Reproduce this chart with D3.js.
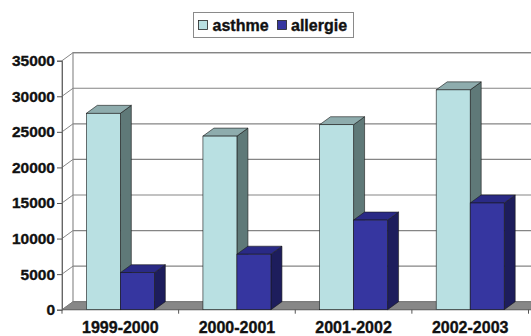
<!DOCTYPE html>
<html>
<head>
<meta charset="utf-8">
<script src="https://cdn.jsdelivr.net/npm/d3@7"></script>
<style>
  html, body { margin: 0; padding: 0; background: #fff; }
  svg { display: block; font-family: "Liberation Sans", Arial, sans-serif; }
  .lbl { paint-order: stroke; stroke: #111; stroke-width: 0.35px; }
</style>
</head>
<body>
<svg id="chart" width="531" height="336"></svg>
<script>
// Data
const categories = ["1999-2000", "2000-2001", "2001-2002", "2002-2003"];
const seriesNames = ["asthme", "allergie"];
const asthme = [27600, 24400, 26000, 30900];
const allergie = [5200, 7800, 12600, 15000];
const yTicks = [0, 5000, 10000, 15000, 20000, 25000, 30000, 35000];

// Face colours per series: front, top, side
const palette = {
  asthme:   { front: "#b9e0e2", top: "#8eacad", side: "#5f7978" },
  allergie: { front: "#3636a0", top: "#2a2a86", side: "#1d1d5c" }
};

const svg = d3.select("#chart");
const W = 531;

// 3D depth offset of the plot
const DX = 11, DY = -8;

const y = d3.scaleLinear().domain([0, 35000]).range([309.7, 60.7]);
const x0 = d3.scaleBand().domain(categories).range([62, 528.5]).paddingInner(0).paddingOuter(0);
const x1 = d3.scaleBand().domain(seriesNames).range([0, x0.bandwidth()]).paddingInner(0).paddingOuter(0.715);

const xLeft = x0.range()[0], xRight = x0.range()[1];
const poly = pts => pts.map(p => p.join(",")).join(" ");

// Back wall
svg.append("rect")
  .attr("x", xLeft + DX).attr("y", y(35000) + DY)
  .attr("width", W - (xLeft + DX) + 20).attr("height", y(0) - y(35000))
  .attr("fill", "#fff").attr("stroke", "#858585").attr("stroke-width", 1.1);

// Side wall outline
svg.append("line")
  .attr("x1", xLeft).attr("x2", xLeft)
  .attr("y1", y(35000)).attr("y2", y(0))
  .attr("stroke", "#858585");

// Gridlines on back wall + diagonal connectors on side wall
const grid = svg.append("g");
yTicks.forEach(v => {
  grid.append("line")
    .attr("x1", xLeft + DX).attr("x2", W + 20)
    .attr("y1", y(v) + DY).attr("y2", y(v) + DY)
    .attr("stroke", "#858585").attr("stroke-width", 1.2);
  grid.append("line")
    .attr("x1", xLeft).attr("y1", y(v))
    .attr("x2", xLeft + DX).attr("y2", y(v) + DY)
    .attr("stroke", "#858585").attr("stroke-width", 1);
});

// Floor
svg.append("polygon")
  .attr("points", poly([[xLeft, y(0)], [xRight + 20, y(0)], [xRight + 20 + DX, y(0) + DY], [xLeft + DX, y(0) + DY]]))
  .attr("fill", "#878787").attr("stroke", "#707070").attr("stroke-width", 0.6);

// Y axis with tick labels
const yAxis = d3.axisLeft(y).tickValues(yTicks).tickSize(5).tickPadding(2).tickFormat(d3.format("d"));
const yG = svg.append("g").attr("transform", `translate(${xLeft},0)`).call(yAxis);
yG.select(".domain").attr("stroke", "#666");
yG.selectAll(".tick line").attr("stroke", "#555");
yG.selectAll(".tick text")
  .attr("class", "lbl")
  .attr("font-size", 15.5).attr("font-weight", "bold").attr("fill", "#111")
  .attr("font-family", "'Liberation Sans', Arial, sans-serif");

// X axis line with tick marks at category boundaries
const xG = svg.append("g");
xG.append("line")
  .attr("x1", xLeft).attr("x2", W)
  .attr("y1", y(0)).attr("y2", y(0))
  .attr("stroke", "#666");
categories.concat([null]).forEach(c => {
  const bx = c === null ? xRight : x0(c);
  xG.append("line").attr("x1", bx).attr("x2", bx).attr("y1", y(0)).attr("y2", y(0) + 4).attr("stroke", "#555");
});

// Category labels
svg.append("g").selectAll("text").data(categories).join("text")
  .attr("class", "lbl")
  .attr("x", d => x0(d) + x0.bandwidth() / 2)
  .attr("y", 333)
  .attr("text-anchor", "middle")
  .attr("font-size", 16).attr("font-weight", "bold").attr("fill", "#111")
  .text(d => d);

// 3D bars, drawn left to right so nearer faces overlap correctly
const bars = [];
categories.forEach((c, i) => {
  bars.push({ cat: c, s: "asthme", v: asthme[i] });
  bars.push({ cat: c, s: "allergie", v: allergie[i] });
});

const barG = svg.append("g");
bars.forEach(b => {
  const xl = x0(b.cat) + x1(b.s);
  const xr = xl + x1.bandwidth();
  const yt = y(b.v), yb = y(0);
  const col = palette[b.s];
  const g = barG.append("g");
  // side face
  g.append("polygon")
    .attr("points", poly([[xr, yb], [xr, yt], [xr + DX, yt + DY], [xr + DX, yb + DY]]))
    .attr("fill", col.side).attr("stroke", "#1a1a1a").attr("stroke-width", 0.6).attr("stroke-linejoin", "round");
  // top face
  g.append("polygon")
    .attr("points", poly([[xl, yt], [xr, yt], [xr + DX, yt + DY], [xl + DX, yt + DY]]))
    .attr("fill", col.top).attr("stroke", "#1a1a1a").attr("stroke-width", 0.6).attr("stroke-linejoin", "round");
  // front face
  g.append("rect")
    .attr("x", xl).attr("y", yt).attr("width", xr - xl).attr("height", yb - yt)
    .attr("fill", col.front).attr("stroke", "#1a1a1a").attr("stroke-width", 0.6);
});

// Legend
const legend = svg.append("g");
legend.append("rect")
  .attr("x", 193.5).attr("y", 12.5).attr("width", 160).attr("height", 25)
  .attr("fill", "#fff").attr("stroke", "#8a8a8a").attr("stroke-width", 1);
const legendItems = [
  { name: seriesNames[0], sx: 198, tx: 212.5 },
  { name: seriesNames[1], sx: 277, tx: 291 }
];
legendItems.forEach(it => {
  legend.append("rect")
    .attr("x", it.sx + 0.5).attr("y", 20.5).attr("width", 9).attr("height", 9)
    .attr("fill", palette[it.name].front).attr("stroke", "#222").attr("stroke-width", 0.8);
  legend.append("text")
    .attr("class", "lbl")
    .attr("x", it.tx).attr("y", 30.5)
    .attr("font-size", 16).attr("font-weight", "bold").attr("fill", "#111")
    .text(it.name);
});
</script>
</body>
</html>
